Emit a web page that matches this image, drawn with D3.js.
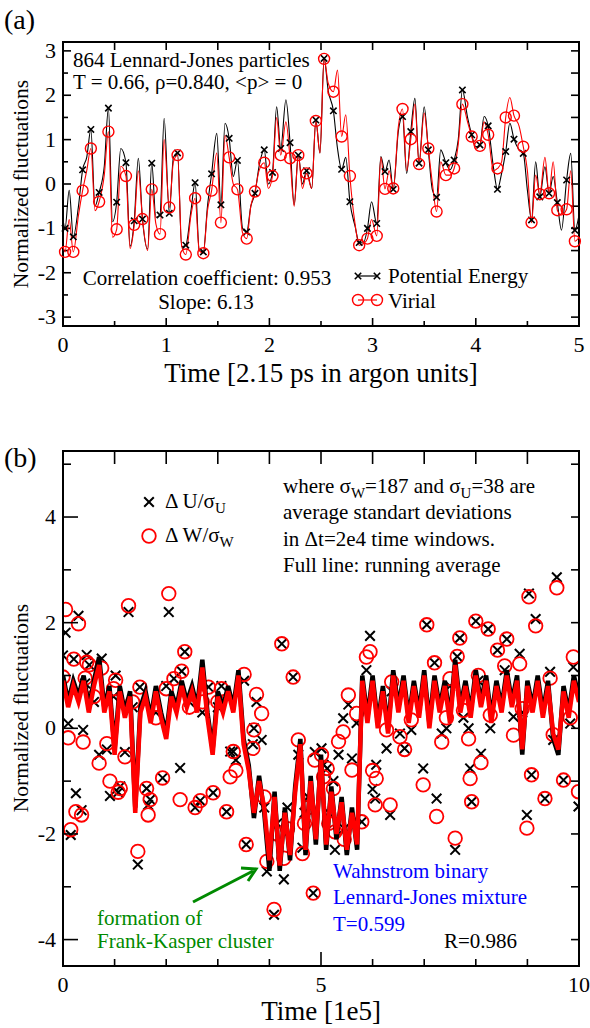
<!DOCTYPE html>
<html>
<head>
<meta charset="utf-8">
<script src="https://cdn.jsdelivr.net/npm/d3@7"></script>
<style>
  body { margin: 0; background: #fff; }
  text { font-family: "Liberation Serif", "DejaVu Serif", serif; fill: #000; }
</style>
</head>
<body>
<svg id="chart" width="590" height="1028"></svg>
<script>
// ---------- panel (a): 864 LJ particles ----------
const aTime = [0.02, 0.10, 0.19, 0.27, 0.35, 0.44, 0.52, 0.61, 0.69, 0.77, 0.86, 0.94, 1.03, 1.11, 1.19, 1.28, 1.36, 1.44, 1.53, 1.61,
  1.69, 1.78, 1.86, 1.95, 2.03, 2.11, 2.20, 2.28, 2.36, 2.45, 2.53, 2.62, 2.70, 2.78, 2.87, 2.95, 3.04, 3.12, 3.20, 3.29,
  3.37, 3.45, 3.54, 3.62, 3.71, 3.79, 3.87, 3.96, 4.04, 4.12, 4.21, 4.29, 4.37, 4.46, 4.54, 4.62, 4.71, 4.79, 4.88, 4.96];
const aPot = [-1.00, -1.19, 0.32, 1.23, -0.19, 1.71, -0.41, 0.48, -0.83, -0.79, 0.47, -0.70, -0.66, 0.70, -1.38, 0.03, -1.53, 0.23, -0.47, 1.03,
  0.53, -1.08, -0.21, 0.77, 0.26, 0.80, 0.93, 0.65, 0.30, 1.44, 2.83, 1.65, 0.33, -0.40, -1.32, -1.00, -0.89, 0.28, -0.12, 1.52,
  1.18, 0.47, 0.77, -0.30, 0.48, 0.54, 2.12, 1.11, 0.88, 1.31, -0.12, 0.73, 1.01, 0.69, -0.81, -0.29, -0.21, -0.42, 0.09, -1.04];
const aVir = [-1.53, -1.53, -0.15, 0.80, -0.40, 1.18, -1.02, 0.18, -0.92, -0.79, -0.12, -1.13, -0.53, 0.65, -1.59, -0.32, -1.56, -0.15, -0.87, 0.60,
  -0.12, -1.23, -0.17, 0.48, 0.18, 0.65, 0.58, 0.65, 0.24, 1.42, 2.82, 2.08, 1.07, 0.18, -1.38, -1.23, -1.17, -0.11, -0.10, 1.69,
  1.01, 0.45, 0.80, -0.62, 0.20, 0.35, 1.80, 1.07, 0.86, 1.11, 0.35, 1.50, 1.54, 0.84, -0.87, -0.23, -0.21, -0.59, -0.57, -1.29];
// in-between samples of the continuous curves (peaks and troughs between markers)
const aMidTime = [0.00, 0.06, 0.15, 0.23, 0.31, 0.40, 0.48, 0.56, 0.65, 0.73, 0.82, 0.90, 0.98, 1.07, 1.15, 1.24, 1.32, 1.40, 1.49, 1.57, 1.65,
  1.74, 1.82, 1.90, 1.99, 2.07, 2.16, 2.24, 2.32, 2.41, 2.49, 2.57, 2.66, 2.74, 2.83, 2.91, 2.99, 3.08, 3.16, 3.25, 3.33,
  3.41, 3.50, 3.58, 3.66, 3.75, 3.83, 3.92, 4.00, 4.08, 4.17, 4.25, 4.33, 4.42, 4.50, 4.58, 4.67, 4.75, 4.83, 4.92, 5.00];
const aPotMid = [-0.80, -0.14, -0.50, 0.60, -0.50, 0.40, -0.85, 0.80, -1.40, 0.58, -1.47, -0.75, 1.48, 0.60, -1.41, -0.60, -1.49, -0.50, 1.14, 1.37, 0.17,
  -1.00, -0.50, 0.40, 0.00, 1.74, 1.90, -0.47, 0.00, -0.10, 0.70, 2.10, 0.80, 0.60, -0.95, -1.33, -0.40, 0.62, 0.54, 1.20, 0.24,
  1.93, 1.74, -0.14, 0.77, 0.32, 1.00, 1.50, 0.84, 1.52, 0.39, 0.24, 1.37, 0.77, -0.14, 0.50, 0.39, 0.17, -1.04, 0.69, -0.70];
const aVirMid = [-1.40, -0.80, -0.70, 0.30, -0.60, 0.20, -1.20, 0.40, -1.45, 0.30, -1.50, -0.90, 1.00, 0.50, -1.40, -0.70, -1.50, -0.60, 0.70, 1.10, 0.00,
  -1.10, -0.50, 0.30, -0.10, 1.50, 1.40, -0.50, -0.10, -0.10, 0.70, 2.27, 2.57, 1.56, -0.90, -1.35, -0.80, 0.60, 0.30, 1.30, 0.30,
  1.80, 1.60, 0.00, 0.50, 0.20, 0.90, 1.40, 0.80, 1.40, 0.30, 0.50, 1.95, 1.30, 0.30, 0.20, 0.60, 0.50, -0.70, 0.30, -1.20];

// ---------- panel (b): Wahnstrom mixture ----------
const bTime = [0.00, 0.05, 0.10, 0.15, 0.21, 0.25, 0.30, 0.36, 0.39, 0.43, 0.46, 0.51, 0.60, 0.70, 0.75, 0.85, 0.91, 0.98, 1.02, 1.07,
  1.11, 1.20, 1.27, 1.35, 1.45, 1.49, 1.62, 1.65, 1.69, 1.80, 1.93, 2.00, 2.05, 2.15, 2.27, 2.30, 2.36, 2.45, 2.56, 2.66,
  2.70, 2.82, 2.91, 3.00, 3.07, 3.17, 3.24, 3.30, 3.35, 3.51, 3.55, 3.68, 3.70, 3.75, 3.85, 3.90, 3.95, 4.09, 4.15, 4.24,
  4.28, 4.35, 4.46, 4.56, 4.64, 4.68, 4.75, 4.85, 4.88, 5.01, 5.05, 5.12, 5.15, 5.24, 5.27, 5.34, 5.43, 5.45, 5.53, 5.60,
  5.69, 5.79, 5.88, 5.95, 6.00, 6.05, 6.07, 6.27, 6.34, 6.37, 6.53, 6.62, 6.75, 6.98, 7.05, 7.20, 7.24, 7.34, 7.43, 7.50,
  7.60, 7.64, 7.69, 7.76, 7.86, 7.89, 7.92, 8.00, 8.05, 8.10, 8.24, 8.28, 8.42, 8.56, 8.60, 8.73, 8.85, 8.90, 8.99, 9.03,
  9.08, 9.16, 9.34, 9.44, 9.50, 9.57, 9.70, 9.83, 9.89, 9.99];
const bDU = [1.38, 1.81, 0.09, -2.02, 1.31, -1.23, 2.13, -1.55, -0.03, 0.85, 1.39, 1.20, 0.50, -0.50, 1.32, -0.40, -1.28, 0.60, 1.00, -1.21,
  -1.10, -0.45, 2.20, 0.40, -2.58, 0.78, -1.14, -1.45, -1.35, 0.30, -0.94, 0.80, 2.20, 0.94, -0.75, 1.08, 1.45, 0.50, -1.50, -1.37,
  0.30, 0.78, -1.22, 0.40, 0.80, -1.58, -0.44, -0.44, -0.60, 0.90, -2.20, -0.30, 0.00, 0.50, -0.22, -1.50, -2.71, -3.53, -1.80, 1.60,
  -2.86, -1.50, 0.97, -0.50, -2.26, -1.60, -1.30, -3.12, -0.45, -0.38, -0.69, -0.76, -1.60, -1.00, -2.30, -0.50, 0.19, -1.90, 0.45, -0.57,
  0.10, -1.77, 1.10, 1.75, -1.15, -1.33, -0.69, -0.38, -1.64, 0.70, -0.10, -0.38, -0.03, -0.76, 1.96, 1.24, -1.33, -0.10, 0.00, 0.80,
  -2.30, 1.36, 1.71, 0.20, 0.00, -0.76, -1.39, 2.03, 0.90, -0.48, 1.88, 0.00, 1.48, 1.10, 1.69, 0.22, 1.41, 0.30, -1.64, 2.55,
  -0.88, 2.07, -1.33, 1.07, -0.22, 2.86, -0.98, 0.09, 1.16, -1.48];
const bDW = [0.97, 2.25, -0.18, -1.92, 1.31, -1.58, 1.98, -1.64, -0.26, 0.95, 1.25, 1.20, 0.60, -0.66, 1.14, -0.29, -1.00, 0.75, 0.91, -1.21,
  -1.14, -0.54, 2.32, 0.50, -2.33, 0.78, -1.14, -1.64, -1.35, 0.20, -0.94, 0.75, 2.55, 0.94, -1.35, 1.08, 1.45, 0.40, -1.50, -1.37,
  0.50, 0.78, -1.22, 0.50, 0.75, -1.58, -0.92, -0.44, -0.80, 1.02, -2.20, -0.38, -0.03, 0.64, 0.28, -1.30, -2.52, -3.43, -2.00, 1.60,
  -2.46, -1.90, 0.97, -0.22, -2.37, -1.80, -1.50, -3.12, -0.60, -0.50, -0.92, -0.76, -1.80, -1.14, -1.96, -0.25, -0.07, -2.10, 0.63, -0.79,
  0.28, -1.77, 1.35, 1.45, -0.80, -1.45, -0.95, -0.03, -1.45, 0.88, -0.16, -0.40, 0.16, -1.07, 1.96, 1.24, -1.67, -0.26, 0.20, 0.94,
  -2.08, 1.36, 1.71, 0.34, -0.20, -0.95, -1.39, 2.03, 1.00, -0.65, 1.88, 0.25, 1.48, 1.18, 1.69, -0.13, 1.22, 0.37, -1.89, 2.49,
  -0.88, 1.94, -1.33, 0.95, -0.12, 2.66, -0.98, 0.20, 1.35, -1.20];
// running averages
const avgTime = [0.0, 0.1, 0.2, 0.3, 0.4, 0.5, 0.6, 0.7, 0.8, 0.9, 1.0, 1.1, 1.2, 1.3, 1.4, 1.5, 1.6, 1.7, 1.8, 1.9,
  2.0, 2.1, 2.2, 2.3, 2.4, 2.5, 2.6, 2.7, 2.8, 2.9, 3.0, 3.1, 3.2, 3.3, 3.4, 3.5, 3.6, 3.7, 3.8, 3.9,
  4.0, 4.1, 4.2, 4.3, 4.4, 4.5, 4.6, 4.7, 4.8, 4.9, 5.0, 5.1, 5.2, 5.3, 5.4, 5.5, 5.6, 5.7, 5.8, 5.9,
  6.0, 6.1, 6.2, 6.3, 6.4, 6.5, 6.6, 6.7, 6.8, 6.9, 7.0, 7.1, 7.2, 7.3, 7.4, 7.5, 7.6, 7.7, 7.8, 7.9,
  8.0, 8.1, 8.2, 8.3, 8.4, 8.5, 8.6, 8.7, 8.8, 8.9, 9.0, 9.1, 9.2, 9.3, 9.4, 9.5, 9.6, 9.7, 9.8, 9.9, 10.0];
const avgW = [0.9, 0.4, 0.8, 0.5, 0.9, 0.3, 0.8, 1.2, 0.3, 0.7, -0.5, 0.7, 0.2, 0.6, -1.6, 0.3, 0.6, 0.1, 0.7, 0.2,
  -0.2, 0.6, 0.3, 0.8, 0.4, 0.7, 0.3, 1.15, 0.2, -0.5, 0.6, 0.3, 0.7, 0.3, 1.0, -0.3, -0.8, -1.6, -1.0, -1.5,
  -2.5, -1.3, -2.6, -1.6, -2.4, -1.2, -0.3, -2.3, -1.0, -2.1, -0.6, -2.2, -1.2, -2.0, -1.4, -2.3, -1.6, -2.2, 0.9, 0.1,
  0.9, 0.0, 0.7, -0.1, 1.0, 0.3, 0.9, 0.1, 0.8, 0.2, 1.0, 0.0, 0.9, 0.3, 0.8, 0.1, 1.2, 0.3, 0.8, 0.2,
  1.0, 0.4, 0.9, 0.1, 0.8, 0.3, 1.0, 0.4, 0.9, -0.4, 0.8, 0.3, 0.9, 0.2, 0.8, -0.1, -0.4, 0.7, 0.2, 0.9, 0.5];
const avgU = [1.0, 0.5, 0.9, 0.6, 1.0, 0.4, 0.9, 1.35, 0.4, 0.8, -0.4, 0.8, 0.3, 0.7, -1.5, 0.4, 0.7, 0.2, 0.8, 0.3,
  -0.1, 0.7, 0.4, 0.9, 0.5, 0.8, 0.4, 1.3, 0.3, -0.4, 0.7, 0.4, 0.8, 0.4, 1.1, -0.2, -0.7, -1.7, -0.9, -1.6,
  -2.7, -1.2, -2.7, -1.5, -2.5, -1.1, -0.2, -2.4, -0.9, -2.2, -0.5, -2.3, -1.1, -2.1, -1.3, -2.4, -1.5, -2.3, 1.0, 0.2,
  1.0, 0.1, 0.8, 0.0, 1.1, 0.4, 1.0, 0.2, 0.9, 0.3, 1.1, 0.1, 1.0, 0.4, 0.9, 0.2, 1.3, 0.4, 0.9, 0.3,
  1.1, 0.5, 1.0, 0.2, 0.9, 0.4, 1.1, 0.5, 1.0, -0.5, 0.9, 0.4, 1.0, 0.3, 0.9, -0.2, -0.5, 0.8, 0.3, 1.0, 0.6];

const svg = d3.select('#chart');
const RED = '#ff0000';
const FS = 21;       // annotation text
const TICK_FS = 22;  // tick labels
const XT_FS = 27;    // x axis titles
const YT_FS = 21.5;  // y axis titles

const crossPath = s => `M${-s},${-s}L${s},${s}M${-s},${s}L${s},${-s}`;

// frame with inward ticks on all four sides
function drawFrame(x, y, o) {
  const [x0, x1] = x.range();
  const [y1, y0] = y.range();
  const g = svg.append('g');
  const tick = (x1a, y1a, x2a, y2a) => g.append('line')
    .attr('x1', x1a).attr('y1', y1a).attr('x2', x2a).attr('y2', y2a)
    .attr('stroke', '#000').attr('stroke-width', 1.6);
  o.xTicks.forEach(t => {
    const len = o.xMajor.includes(t) ? o.bMaj : o.bMin;
    tick(x(t), y1, x(t), y1 - len);
    tick(x(t), y0, x(t), y0 + o.top);
  });
  o.yTicks.forEach(t => {
    const len = o.yMajor.includes(t) ? o.lMaj : o.lMin;
    tick(x0, y(t), x0 + len, y(t));
    tick(x1, y(t), x1 - o.right, y(t));
  });
  g.append('rect').attr('x', x0).attr('y', y0).attr('width', x1 - x0).attr('height', y1 - y0)
    .attr('fill', 'none').attr('stroke', '#000').attr('stroke-width', 2);
  o.xLabels.forEach(t => {
    g.append('text').attr('x', x(t)).attr('y', y1 + 26).attr('text-anchor', 'middle')
      .attr('font-size', TICK_FS).text(t);
  });
  o.yLabels.forEach(t => {
    g.append('text').attr('x', x0 - 7).attr('y', y(t) + 7).attr('text-anchor', 'end')
      .attr('font-size', TICK_FS).text(t);
  });
}

// ---------- panel (a) ----------
const xa = d3.scaleLinear().domain([0, 5]).range([63, 579]);
const ya = d3.scaleLinear().domain([-3.2, 3.2]).range([326, 42]);

drawFrame(xa, ya, {
  xTicks: [0, 0.5, 1, 1.5, 2, 2.5, 3, 3.5, 4, 4.5, 5], xMajor: [0, 1, 2, 3, 4, 5],
  yTicks: [-3, -2.5, -2, -1.5, -1, -0.5, 0, 0.5, 1, 1.5, 2, 2.5, 3], yMajor: [-3, -2, -1, 0, 1, 2, 3],
  bMaj: 8, bMin: 5, lMaj: 8, lMin: 5, top: 8, right: 8,
  xLabels: [0, 1, 2, 3, 4, 5], yLabels: [-3, -2, -1, 0, 1, 2, 3]
});

const potLine = aTime.map((t, i) => [t, aPot[i]]).concat(aMidTime.map((t, i) => [t, aPotMid[i]]))
  .sort((p, q) => p[0] - q[0]);
const virLine = aTime.map((t, i) => [t, aVir[i]]).concat(aMidTime.map((t, i) => [t, aVirMid[i]]))
  .sort((p, q) => p[0] - q[0]);
const lineA = d3.line().x(d => xa(d[0])).y(d => ya(d[1])).curve(d3.curveMonotoneX);

svg.append('path').datum(potLine).attr('d', lineA).attr('fill', 'none').attr('stroke', '#000').attr('stroke-width', 1.1);
svg.append('path').datum(virLine).attr('d', lineA).attr('fill', 'none').attr('stroke', RED).attr('stroke-width', 1.1);

svg.append('g').selectAll('path').data(aTime).join('path')
  .attr('transform', (t, i) => `translate(${xa(t)},${ya(aPot[i])})`)
  .attr('d', crossPath(3.2)).attr('stroke', '#000').attr('stroke-width', 1.6).attr('fill', 'none');
svg.append('g').selectAll('circle').data(aTime).join('circle')
  .attr('cx', t => xa(t)).attr('cy', (t, i) => ya(aVir[i])).attr('r', 5.5)
  .attr('fill', 'none').attr('stroke', RED).attr('stroke-width', 1.4);

svg.append('text').attr('x', 4).attr('y', 29).attr('font-size', 28).text('(a)');
svg.append('text').attr('x', 73).attr('y', 67).attr('font-size', FS).text('864 Lennard-Jones particles');
svg.append('text').attr('x', 73).attr('y', 89).attr('font-size', FS).text('T = 0.66, ρ=0.840, <p> = 0');
svg.append('text').attr('x', 207).attr('y', 285).attr('font-size', FS).attr('text-anchor', 'middle')
  .text('Correlation coefficient: 0.953');
svg.append('text').attr('x', 206).attr('y', 309).attr('font-size', FS).attr('text-anchor', 'middle')
  .text('Slope: 6.13');

// legend (a)
svg.append('line').attr('x1', 358).attr('x2', 377).attr('y1', 276).attr('y2', 276).attr('stroke', '#000').attr('stroke-width', 1.2);
[358, 377].forEach(cx => {
  svg.append('path').attr('transform', `translate(${cx},276)`).attr('d', crossPath(3.2))
    .attr('stroke', '#000').attr('stroke-width', 1.6);
  svg.append('circle').attr('cx', cx).attr('cy', 300).attr('r', 5.5)
    .attr('fill', 'none').attr('stroke', RED).attr('stroke-width', 1.4);
});
svg.append('line').attr('x1', 358).attr('x2', 377).attr('y1', 300).attr('y2', 300).attr('stroke', RED).attr('stroke-width', 1.2);
svg.append('text').attr('x', 388).attr('y', 283).attr('font-size', FS).text('Potential Energy');
svg.append('text').attr('x', 388).attr('y', 308).attr('font-size', FS).text('Virial');

svg.append('text').attr('transform', 'translate(28,184) rotate(-90)').attr('text-anchor', 'middle')
  .attr('font-size', YT_FS).text('Normalized fluctuations');
svg.append('text').attr('x', 321).attr('y', 382).attr('text-anchor', 'middle')
  .attr('font-size', XT_FS).text('Time [2.15 ps in argon units]');

// ---------- panel (b) ----------
const xb = d3.scaleLinear().domain([0, 10]).range([63, 579]);
const yb = d3.scaleLinear().domain([-4.5, 5.25]).range([966, 451]);

svg.append('clipPath').attr('id', 'clipB').append('rect')
  .attr('x', 63).attr('y', 451).attr('width', 516).attr('height', 515);

const gb = svg.append('g').attr('clip-path', 'url(#clipB)');
gb.append('g').selectAll('path').data(bTime).join('path')
  .attr('transform', (t, i) => `translate(${xb(t)},${yb(bDU[i])})`)
  .attr('d', crossPath(4.8)).attr('stroke', '#000').attr('stroke-width', 2).attr('fill', 'none');
gb.append('g').selectAll('circle').data(bTime).join('circle')
  .attr('cx', t => xb(t)).attr('cy', (t, i) => yb(bDW[i])).attr('r', 6.8)
  .attr('fill', 'none').attr('stroke', RED).attr('stroke-width', 1.8);

const lineB = d3.line().x(d => xb(d[0])).y(d => yb(d[1]));
gb.append('path').datum(avgTime.map((t, i) => [t, avgU[i]])).attr('d', lineB)
  .attr('fill', 'none').attr('stroke', '#000').attr('stroke-width', 4.5).attr('stroke-linejoin', 'miter');
gb.append('path').datum(avgTime.map((t, i) => [t, avgW[i]])).attr('d', lineB)
  .attr('fill', 'none').attr('stroke', RED).attr('stroke-width', 4.5).attr('stroke-linejoin', 'miter');

drawFrame(xb, yb, {
  xTicks: [0, 1, 2, 3, 4, 5, 6, 7, 8, 9, 10], xMajor: [0, 5, 10],
  yTicks: [-4, -3, -2, -1, 0, 1, 2, 3, 4, 5], yMajor: [-4, -2, 0, 2, 4],
  bMaj: 14, bMin: 7, lMaj: 15, lMin: 8, top: 13, right: 8,
  xLabels: [0, 5, 10], yLabels: [-4, -2, 0, 2, 4]
});

svg.append('text').attr('x', 4).attr('y', 467).attr('font-size', 28).text('(b)');

// legend (b)
svg.append('path').attr('transform', 'translate(149,502)').attr('d', crossPath(4.8))
  .attr('stroke', '#000').attr('stroke-width', 2);
svg.append('circle').attr('cx', 149).attr('cy', 536).attr('r', 6.8)
  .attr('fill', 'none').attr('stroke', RED).attr('stroke-width', 1.8);
const lg1 = svg.append('text').attr('x', 165).attr('y', 508).attr('font-size', FS);
lg1.append('tspan').text('Δ U/σ');
lg1.append('tspan').attr('dy', 5).attr('font-size', 15).text('U');
const lg2 = svg.append('text').attr('x', 165).attr('y', 542).attr('font-size', FS);
lg2.append('tspan').text('Δ W/σ');
lg2.append('tspan').attr('dy', 5).attr('font-size', 15).text('W');

const note1 = svg.append('text').attr('x', 283).attr('y', 493).attr('font-size', FS);
note1.append('tspan').text('where σ');
note1.append('tspan').attr('dy', 5).attr('font-size', 15).text('W');
note1.append('tspan').attr('dy', -5).text('=187 and σ');
note1.append('tspan').attr('dy', 5).attr('font-size', 15).text('U');
note1.append('tspan').attr('dy', -5).text('=38 are');
svg.append('text').attr('x', 283).attr('y', 519).attr('font-size', FS).text('average standart deviations');
svg.append('text').attr('x', 283).attr('y', 546).attr('font-size', FS).text('in Δt=2e4 time windows.');
svg.append('text').attr('x', 283).attr('y', 572).attr('font-size', FS).text('Full line: running average');

const GREEN = '#008a00';
svg.append('line').attr('x1', 193).attr('y1', 902).attr('x2', 253).attr('y2', 871)
  .attr('stroke', GREEN).attr('stroke-width', 3);
svg.append('path').attr('d', 'M241,868 L256,869 L248,881').attr('fill', 'none')
  .attr('stroke', GREEN).attr('stroke-width', 3).attr('stroke-linejoin', 'miter');
svg.append('text').attr('x', 97).attr('y', 925).attr('font-size', FS).style('fill', GREEN).text('formation of');
svg.append('text').attr('x', 97).attr('y', 948).attr('font-size', FS).style('fill', GREEN).text('Frank-Kasper cluster');

svg.append('text').attr('x', 333).attr('y', 878).attr('font-size', FS).style('fill', '#0000ff').text('Wahnstrom binary');
svg.append('text').attr('x', 333).attr('y', 904).attr('font-size', FS).style('fill', '#0000ff').text('Lennard-Jones mixture');
svg.append('text').attr('x', 333).attr('y', 931).attr('font-size', FS).style('fill', '#0000ff').text('T=0.599');
svg.append('text').attr('x', 444).attr('y', 948).attr('font-size', FS).text('R=0.986');

svg.append('text').attr('transform', 'translate(28,708) rotate(-90)').attr('text-anchor', 'middle')
  .attr('font-size', YT_FS).text('Normalized fluctuations');
svg.append('text').attr('x', 321).attr('y', 1020).attr('text-anchor', 'middle')
  .attr('font-size', XT_FS).text('Time [1e5]');
</script>
</body>
</html>
